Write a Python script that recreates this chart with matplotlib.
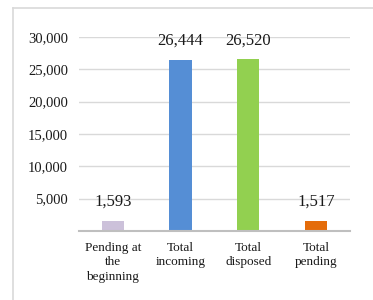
import matplotlib
matplotlib.use("Agg")
import matplotlib.pyplot as plt
from matplotlib.lines import Line2D

categories = ["Pending at\nthe\nbeginning", "Total\nincoming", "Total\ndisposed", "Total\npending"]
values = [1593, 26444, 26520, 1517]
colors = ["#CCC1DA", "#558ED5", "#92D050", "#E46C0A"]
yticks = [5000, 10000, 15000, 20000, 25000, 30000]

plt.rcParams["font.family"] = ["Liberation Serif", "DejaVu Serif"]

fig = plt.figure(figsize=(3.73, 3.0), dpi=100)
ax = fig.add_axes([0.212, 0.23, 0.726, 0.647])

x = list(range(len(values)))
ax.bar(x, values, width=0.33, color=colors, zorder=3)

for xi, v in zip(x, values):
    ax.annotate(f"{v:,}", (xi, v), xytext=(0, 8), textcoords="offset points",
                ha="center", va="bottom", fontsize=12, color="#1A1A1A")

ax.set_xlim(-0.5, 3.5)
ax.set_ylim(0, 30000)
ax.set_yticks(yticks)
ax.set_yticklabels([f"{t:,}" for t in yticks], fontsize=10.5, color="#1A1A1A")
ax.set_xticks(x)
ax.set_xticklabels(categories, fontsize=9.5, color="#1A1A1A", linespacing=1.25)
ax.tick_params(axis="both", length=0)
ax.tick_params(axis="y", pad=8)
ax.tick_params(axis="x", pad=8)

ax.grid(axis="y", color="#D9D9D9", linewidth=1.0, zorder=0)
for s in ["top", "right", "left"]:
    ax.spines[s].set_visible(False)
ax.spines["bottom"].set_color("#BFBFBF")
ax.spines["bottom"].set_linewidth(1.5)
ax.spines["bottom"].set_zorder(4)

# outer frame (top and left edges visible)
fig.add_artist(Line2D([13 / 373, 13 / 373], [0, 1 - 8 / 300], transform=fig.transFigure,
                      color="#D9D9D9", linewidth=1.2))
fig.add_artist(Line2D([13 / 373, 1], [1 - 8 / 300, 1 - 8 / 300], transform=fig.transFigure,
                      color="#D9D9D9", linewidth=1.2))

fig.savefig("out.png", dpi=100)
